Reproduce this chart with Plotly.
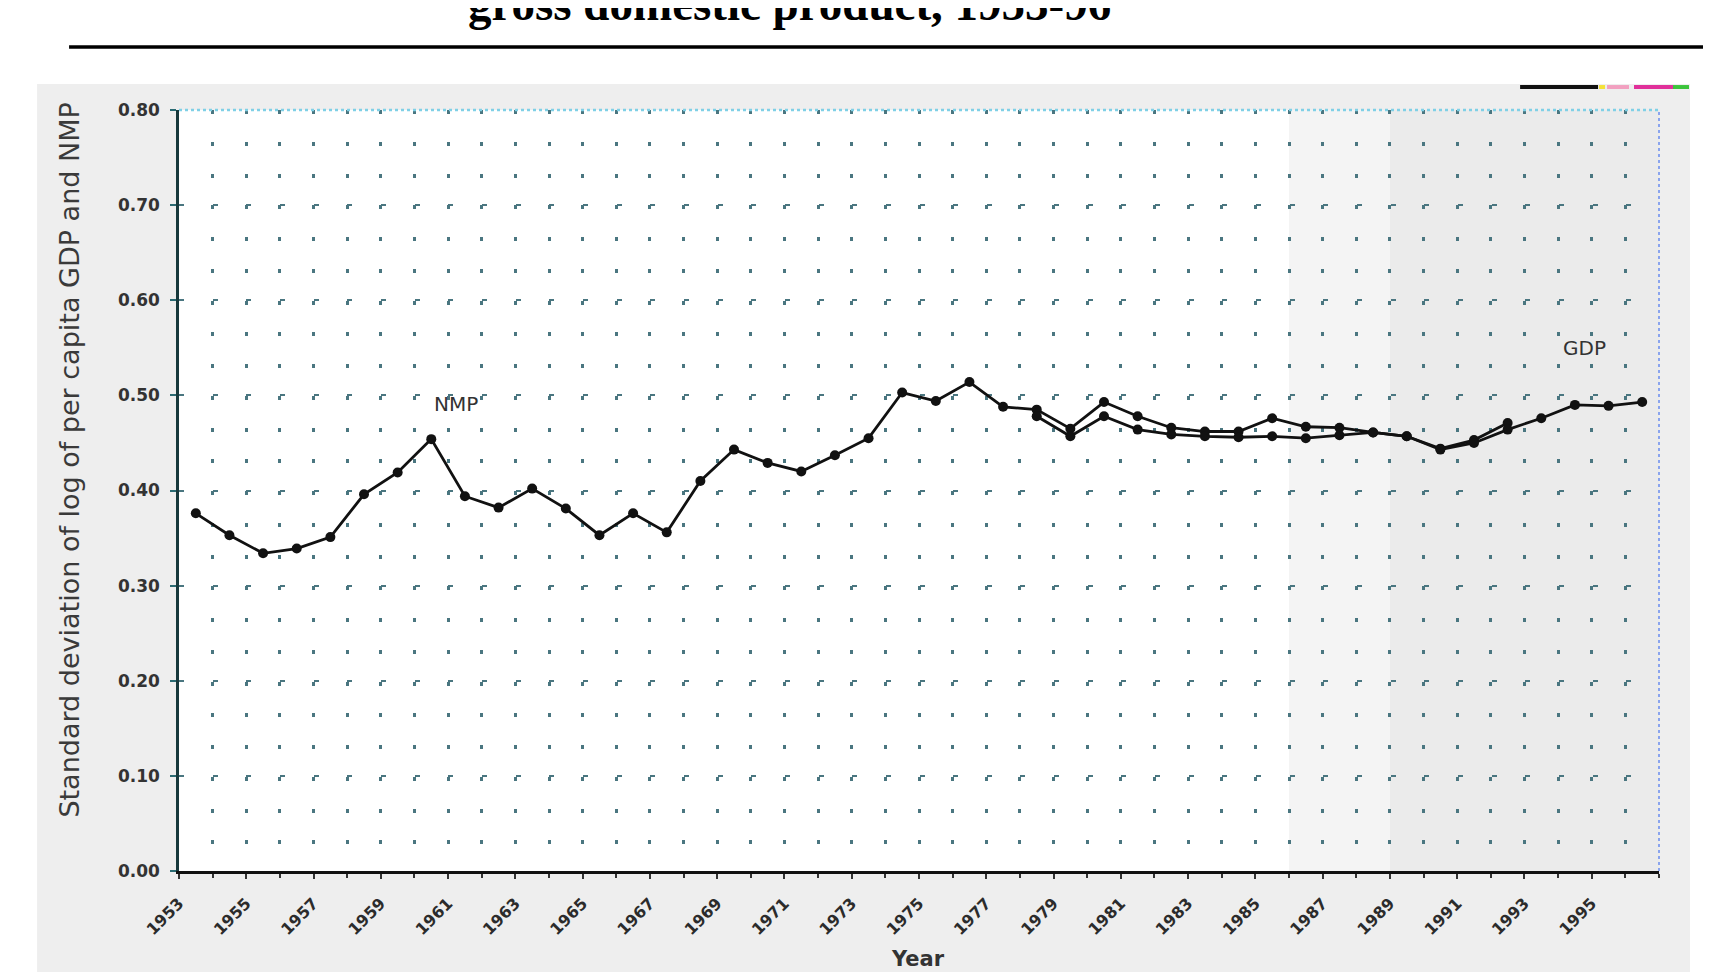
import plotly.graph_objects as go

# ---------------- data ----------------
nmp_years = list(range(1953, 1993))
nmp_values = [0.376, 0.353, 0.334, 0.339, 0.351, 0.396, 0.419, 0.454, 0.394, 0.382,
              0.402, 0.381, 0.353, 0.376, 0.356, 0.410, 0.443, 0.429, 0.420, 0.437,
              0.455, 0.503, 0.494, 0.514, 0.488, 0.485, 0.465, 0.493, 0.478, 0.466,
              0.462, 0.462, 0.476, 0.467, 0.466, 0.461, 0.457, 0.444, 0.453, 0.471]
gdp_years = list(range(1978, 1997))
gdp_values = [0.478, 0.457, 0.478, 0.464, 0.459, 0.457, 0.456, 0.457, 0.455, 0.458,
              0.461, 0.457, 0.443, 0.450, 0.464, 0.476, 0.490, 0.489, 0.493]
label_years = list(range(1953, 1997, 2))
label_text = [str(y) for y in label_years]
y_ticks = [0.0, 0.1, 0.2, 0.3, 0.4, 0.5, 0.6, 0.7, 0.8]

title_text = "gross domestic product, 1953-96"
y_title = "Standard deviation of log of per capita GDP and NMP"
x_title = "Year"

# ---------------- geometry helpers ----------------
W, H = 1711, 972
DX, DY = -4.5, -6.5
L, R, T, B = 175 + DX, 1656 + DX, 108 + DY, 870 + DY  # plot area in pixels


def px(xp):
    return (xp - L) / (R - L)


def py(yp):
    return (B - yp) / (B - T)


GRID = "#4a7680"
LINE = "#111111"
FONT = "DejaVu Sans"

fig = go.Figure()

fig.add_trace(go.Scatter(
    x=nmp_years, y=nmp_values, mode="lines+markers", name="NMP",
    line=dict(color=LINE, width=2.8),
    marker=dict(color=LINE, size=10, symbol="circle"),
    showlegend=False,
))
fig.add_trace(go.Scatter(
    x=gdp_years, y=gdp_values, mode="lines+markers", name="GDP",
    line=dict(color=LINE, width=2.8),
    marker=dict(color=LINE, size=10, symbol="circle"),
    showlegend=False,
))

shapes = [
    # scanned page region
    dict(type="rect", xref="paper", yref="paper", x0=px(33 + DX), x1=px(1687 + DX),
         y0=py(980), y1=py(82 + DY), fillcolor="#eeeeee", line=dict(width=0), layer="below"),
    # white plot area
    dict(type="rect", xref="paper", yref="paper", x0=0, x1=1, y0=0, y1=1,
         fillcolor="#ffffff", line=dict(width=0), layer="below"),
    # greyish right part of scanned plot
    dict(type="rect", xref="x", yref="paper", x0=1985.5, x1=1988.5, y0=0, y1=1,
         fillcolor="#f4f4f4", line=dict(width=0), layer="below"),
    dict(type="rect", xref="x", yref="paper", x0=1988.5, x1=1996.5, y0=0, y1=1,
         fillcolor="#ebebeb", line=dict(width=0), layer="below"),
    # rule under title
    dict(type="line", xref="paper", yref="paper", x0=px(65 + DX), x1=px(1715), y0=py(45 + DY),
         y1=py(45 + DY), line=dict(color="#000000", width=3.5)),
    # top and right borders (dotted, bluish)
    dict(type="line", xref="paper", yref="paper", x0=0, x1=1, y0=1, y1=1,
         line=dict(color="#7fd0e6", width=2.5, dash="dot")),
    dict(type="line", xref="paper", yref="paper", x0=1, x1=1, y0=0, y1=1,
         line=dict(color="#8aa4ee", width=2, dash="dot")),
]
# colour calibration strip at top right of the scan
strip = [(1517, 1595, "#111111"), (1596, 1602, "#f4e23a"), (1604, 1626, "#f2a0c0"),
         (1631, 1670, "#e0309a"), (1670, 1686, "#3cc43c")]
for x0, x1, c in strip:
    shapes.append(dict(type="rect", xref="paper", yref="paper", x0=px(x0 + DX), x1=px(x1 + DX),
                       y0=py(87 + DY), y1=py(83 + DY), fillcolor=c, line=dict(width=0)))

annotations = [
    dict(text=title_text, xref="paper", yref="paper", x=px(781), y=py(-5),
         xanchor="center", yanchor="middle", showarrow=False,
         font=dict(family="Liberation Serif", size=47, color="#000000", weight="bold")),
    dict(text=y_title, xref="paper", yref="paper", x=px(60), y=py(452),
         xanchor="center", yanchor="middle", showarrow=False, textangle=-90,
         font=dict(family=FONT, size=27, color="#3a3a3a")),
    dict(text=x_title, xref="paper", yref="paper", x=px(910), y=py(952),
         xanchor="center", yanchor="middle", showarrow=False,
         font=dict(family=FONT, size=21, color="#333333", weight="bold")),
    dict(text="NMP", xref="x", yref="y", x=1960.74, y=0.491,
         xanchor="center", yanchor="middle", showarrow=False,
         font=dict(family=FONT, size=20, color="#333333")),
    dict(text="GDP", xref="x", yref="y", x=1994.28, y=0.550,
         xanchor="center", yanchor="middle", showarrow=False,
         font=dict(family=FONT, size=20, color="#333333")),
]

fig.update_layout(
    width=W, height=H,
    margin=dict(l=L, r=W - R, t=T, b=H - B, pad=0),
    paper_bgcolor="#ffffff",
    plot_bgcolor="#ffffff",
    shapes=shapes,
    annotations=annotations,
    showlegend=False,
)

fig.update_xaxes(
    range=[1952.5, 1996.5],
    tickmode="array",
    tickvals=[y - 0.5 for y in label_years],
    ticktext=label_text,
    tickangle=-45,
    ticks="outside", ticklen=5, tickwidth=1.5, tickcolor="#333333",
    ticklabelstandoff=9,
    tickfont=dict(family=FONT, size=16, color="#2b2b2b", weight="bold"),
    showline=True, linecolor=LINE, linewidth=2.5,
    showgrid=True, gridcolor=GRID, gridwidth=3, griddash="4px,27.75px",
    zeroline=False,
    minor=dict(tickmode="linear", tick0=1952.5, dtick=1, ticks="outside", ticklen=4,
               tickcolor="#333333", showgrid=True, gridcolor=GRID, gridwidth=3,
               griddash="4px,27.75px"),
)

fig.update_yaxes(
    range=[0, 0.8],
    tickmode="array", tickvals=y_ticks, ticktext=[f"{v:.2f}" for v in y_ticks],
    ticks="outside", ticklen=6, tickwidth=2, tickcolor="#2a6a72",
    ticklabelstandoff=7,
    tickfont=dict(family=FONT, size=17, color="#333333", weight="bold"),
    showline=True, linecolor="#17393c", linewidth=2.5,
    showgrid=True, gridcolor=GRID, gridwidth=2, griddash="5px,28.66px",
    zeroline=False,
)

fig.write_html("out.html")
